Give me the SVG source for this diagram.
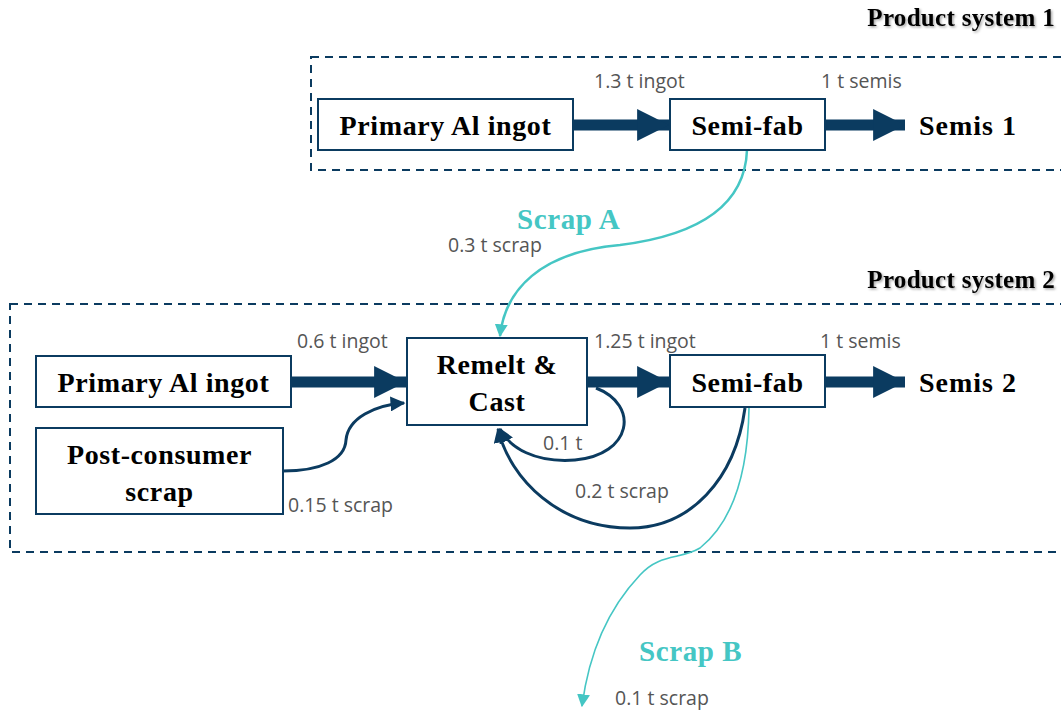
<svg xmlns="http://www.w3.org/2000/svg" width="1061" height="717" viewBox="0 0 1061 717">
  <defs>
    <style>
      .sys { fill: none; stroke: #0B3B60; stroke-width: 2; stroke-dasharray: 8 6; }
      .box { fill: #fff; stroke: #0B3B60; stroke-width: 2; }
      .node { font-family: "Liberation Serif", "DejaVu Serif", serif; font-weight: bold; font-size: 28px; letter-spacing: 0.6px; fill: #000; text-anchor: middle; }
      .out { font-family: "Liberation Serif", "DejaVu Serif", serif; font-weight: bold; font-size: 28px; letter-spacing: 1px; fill: #000; }
      .title { font-family: "Liberation Serif", "DejaVu Serif", serif; font-weight: bold; font-size: 25px; letter-spacing: 0.3px; fill: #000; text-anchor: end; filter: url(#shadow); }
      .flow { font-family: "Open Sans", "Liberation Sans", sans-serif; font-size: 19.5px; fill: #555; }
      .scrap { font-family: "Liberation Serif", "DejaVu Serif", serif; font-weight: bold; font-size: 29px; letter-spacing: 0.6px; fill: #45C6C4; }
      .main { fill: none; stroke: #0B3B60; stroke-width: 11; }
      .loop { fill: none; stroke: #0B3B60; stroke-width: 3; }
      .teal { fill: none; stroke: #45C6C4; }
    </style>
    <filter id="shadow" x="-10%" y="-30%" width="120%" height="160%">
      <feDropShadow dx="1.5" dy="1.5" stdDeviation="0.8" flood-color="#000" flood-opacity="0.35"/>
    </filter>
    <marker id="bigHead" viewBox="0 0 10 10" refX="10" refY="5" markerWidth="2.9" markerHeight="2.9" markerUnits="strokeWidth" orient="auto">
      <path d="M0,0 L10,5 L0,10 Z" fill="#0B3B60"/>
    </marker>
    <marker id="navyHead" viewBox="0 0 10 10" refX="9" refY="5" markerWidth="5" markerHeight="5" markerUnits="strokeWidth" orient="auto">
      <path d="M0,0 L10,5 L0,10 Z" fill="#0B3B60"/>
    </marker>
    <marker id="tealHead" viewBox="0 0 10 10" refX="9" refY="5" markerWidth="13" markerHeight="13" markerUnits="userSpaceOnUse" orient="auto">
      <path d="M0,0 L10,5 L0,10 Z" fill="#45C6C4"/>
    </marker>
  </defs>

  <!-- system boundaries -->
  <rect class="sys" x="311" y="57" width="770" height="113"/>
  <text class="title" x="1055" y="26">Product system 1</text>
  <rect class="sys" x="10" y="304" width="1071" height="248"/>
  <text class="title" x="1055" y="288">Product system 2</text>

  <!-- connectors -->
  <g id="connectors">
    <!-- product system 1 main flow -->
    <line class="main" x1="573" y1="125" x2="669" y2="125" marker-end="url(#bigHead)"/>
    <line class="main" x1="825" y1="125" x2="905" y2="125" marker-end="url(#bigHead)"/>
    <!-- product system 2 main flow -->
    <line class="main" x1="291" y1="382" x2="406" y2="382" marker-end="url(#bigHead)"/>
    <line class="main" x1="587" y1="382" x2="669" y2="382" marker-end="url(#bigHead)"/>
    <line class="main" x1="825" y1="382" x2="905" y2="382" marker-end="url(#bigHead)"/>
    <!-- post-consumer scrap into remelt -->
    <path class="loop" d="M283,471 C320,471 345,460 346,440 C348,418 375,405 404,403" marker-end="url(#navyHead)"/>
    <!-- internal loop 0.1 t -->
    <path class="loop" d="M596,388 C640,405 632,455 575,460 C535,463 510,448 500,429" marker-end="url(#navyHead)"/>
    <!-- scrap return 0.2 t -->
    <path class="loop" d="M745,408 C735,480 690,528 630,528 C560,528 510,480 498,429" marker-end="url(#navyHead)"/>
    <!-- scrap A -->
    <path class="teal" stroke-width="2.5" d="M747,150 C745,205 700,235 620,245 C540,252 505,290 500,336" marker-end="url(#tealHead)"/>
    <!-- scrap B -->
    <path class="teal" stroke-width="1.6" d="M749,408 C748,470 735,520 700,548 C680,560 660,553 640,575 C605,612 588,660 582,706" marker-end="url(#tealHead)"/>
  </g>

  <!-- product system 1 nodes -->
  <g id="ps1-primary">
    <rect class="box" x="318" y="99" width="255" height="51"/>
    <text class="node" x="445.5" y="135">Primary Al ingot</text>
  </g>
  <g id="ps1-semifab">
    <rect class="box" x="670" y="99" width="155" height="51"/>
    <text class="node" x="747.5" y="135">Semi-fab</text>
  </g>
  <g id="ps1-semis">
    <text class="out" x="919" y="135">Semis 1</text>
  </g>

  <!-- product system 2 nodes -->
  <g id="ps2-primary">
    <rect class="box" x="36" y="356" width="255" height="51"/>
    <text class="node" x="163.5" y="392">Primary Al ingot</text>
  </g>
  <g id="ps2-postconsumer">
    <rect class="box" x="36" y="428" width="247" height="86"/>
    <text class="node" x="159.5" y="464">Post-consumer</text>
    <text class="node" x="159.5" y="501">scrap</text>
  </g>
  <g id="ps2-remelt">
    <rect class="box" x="407" y="338" width="180" height="87"/>
    <text class="node" x="497" y="374">Remelt &amp;</text>
    <text class="node" x="497" y="411">Cast</text>
  </g>
  <g id="ps2-semifab">
    <rect class="box" x="670" y="355" width="155" height="52"/>
    <text class="node" x="747.5" y="392">Semi-fab</text>
  </g>
  <g id="ps2-semis">
    <text class="out" x="919" y="392">Semis 2</text>
  </g>

  <!-- scrap labels -->
  <g id="scrap-a">
    <text class="scrap" x="517" y="229">Scrap A</text>
  </g>
  <g id="scrap-b">
    <text class="scrap" x="639" y="661">Scrap B</text>
  </g>

  <!-- flow quantities -->
  <g id="flow-labels">
    <text class="flow" x="594" y="88">1.3 t ingot</text>
    <text class="flow" x="821" y="88">1 t semis</text>
    <text class="flow" x="448" y="252">0.3 t scrap</text>
    <text class="flow" x="297" y="348">0.6 t ingot</text>
    <text class="flow" x="594" y="348">1.25 t ingot</text>
    <text class="flow" x="820" y="348">1 t semis</text>
    <text class="flow" x="543" y="450">0.1 t</text>
    <text class="flow" x="575" y="498">0.2 t scrap</text>
    <text class="flow" x="288" y="512">0.15 t scrap</text>
    <text class="flow" x="615" y="705">0.1 t scrap</text>
  </g>
</svg>
